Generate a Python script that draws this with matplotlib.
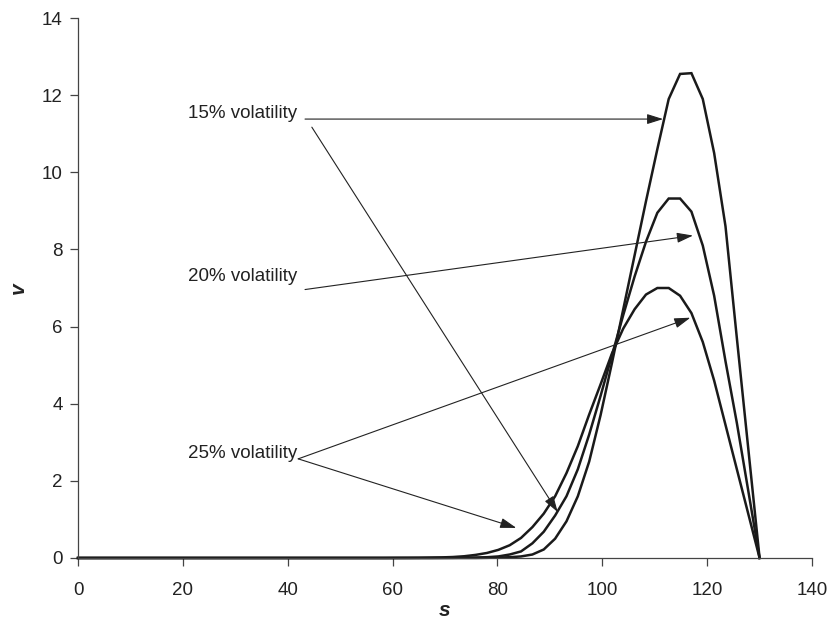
import numpy as np
import matplotlib
matplotlib.use("Agg")
import matplotlib.pyplot as plt

# ---- data ----
s = np.linspace(0, 130, 61)  # sample grid of the asset price

v15 = [0.0] * 36 + [0.004, 0.01, 0.02, 0.04, 0.09,
                    0.22, 0.5, 0.95, 1.6, 2.5,
                    3.7, 5.05, 6.45, 7.85, 9.25,
                    10.6, 11.9, 12.55, 12.57, 11.9,
                    10.5, 8.6, 5.7, 2.85, 0.0]
v20 = [0.0] * 32 + [0.002, 0.004, 0.008, 0.012,
                    0.02, 0.04, 0.09, 0.17, 0.38,
                    0.68, 1.1, 1.6, 2.3, 3.2,
                    4.2, 5.25, 6.3, 7.3, 8.2,
                    8.95, 9.32, 9.32, 8.98, 8.1,
                    6.8, 5.1, 3.5, 1.75, 0.0]
v25 = [0.0] * 28 + [0.002, 0.003, 0.005, 0.01, 0.015,
                    0.025, 0.045, 0.08, 0.13, 0.21,
                    0.33, 0.52, 0.8, 1.15, 1.6,
                    2.2, 2.9, 3.72, 4.5, 5.3,
                    5.95, 6.45, 6.83, 7.0, 7.0,
                    6.8, 6.35, 5.6, 4.6, 3.45,
                    2.3, 1.15, 0.0]

x_ticks = [0, 20, 40, 60, 80, 100, 120, 140]
y_ticks = [0, 2, 4, 6, 8, 10, 12, 14]

labels = ["15% volatility", "20% volatility", "25% volatility"]

font = "Liberation Sans"

fig = plt.figure(figsize=(8.29, 6.28), dpi=100)
ax = fig.add_axes([0.0941, 0.1115, 0.9795 - 0.0941, 0.9713 - 0.1115])

ink = "#1a1a1a"
for v in (v15, v20, v25):
    ax.plot(s, v, color=ink, lw=1.8, solid_joinstyle="miter", clip_on=False)

ax.set_xlim(0, 140)
ax.set_ylim(0, 14)
ax.set_xticks(x_ticks)
ax.set_yticks(y_ticks)
ax.spines["top"].set_visible(False)
ax.spines["right"].set_visible(False)
for sp in ("left", "bottom"):
    ax.spines[sp].set_color("#444444")
    ax.spines[sp].set_linewidth(0.9)
ax.tick_params(direction="out", length=6, width=0.9, color="#444444",
               labelsize=13.5, labelcolor="#222222")
ax.tick_params(axis="x", pad=11)
ax.tick_params(axis="y", pad=5)
for lab in ax.get_xticklabels() + ax.get_yticklabels():
    lab.set_fontfamily(font)

ax.set_xlabel("s", fontsize=15, fontstyle="italic", fontweight="bold",
              family=font, color="#222222", labelpad=2)
ax.set_ylabel("v", fontsize=15, fontstyle="italic", fontweight="bold",
              family=font, color="#222222", labelpad=10, rotation=90)

# ---- annotations ----
tfs = 13.5
ax.text(41.8, 11.52, labels[0], ha="right", va="center", fontsize=tfs,
        family=font, color="#222222")
ax.text(41.8, 7.3, labels[1], ha="right", va="center", fontsize=tfs,
        family=font, color="#222222")
ax.text(41.8, 2.7, labels[2], ha="right", va="center", fontsize=tfs,
        family=font, color="#222222")

ap = dict(arrowstyle="-|>,head_length=0.7,head_width=0.22", lw=0.8,
          color="#222222", shrinkA=0, shrinkB=0, mutation_scale=14)
arrows = [
    ((43.3, 11.38), (111.6, 11.38)),
    ((44.6, 11.17), (91.5, 1.19)),
    ((43.3, 6.96), (117.3, 8.36)),
    ((42.0, 2.57), (116.8, 6.23)),
    ((42.0, 2.57), (83.6, 0.78)),
]
for start, end in arrows:
    ax.annotate("", xy=end, xytext=start, xycoords="data", textcoords="data",
                arrowprops=ap)

fig.savefig("out.png", dpi=100)
